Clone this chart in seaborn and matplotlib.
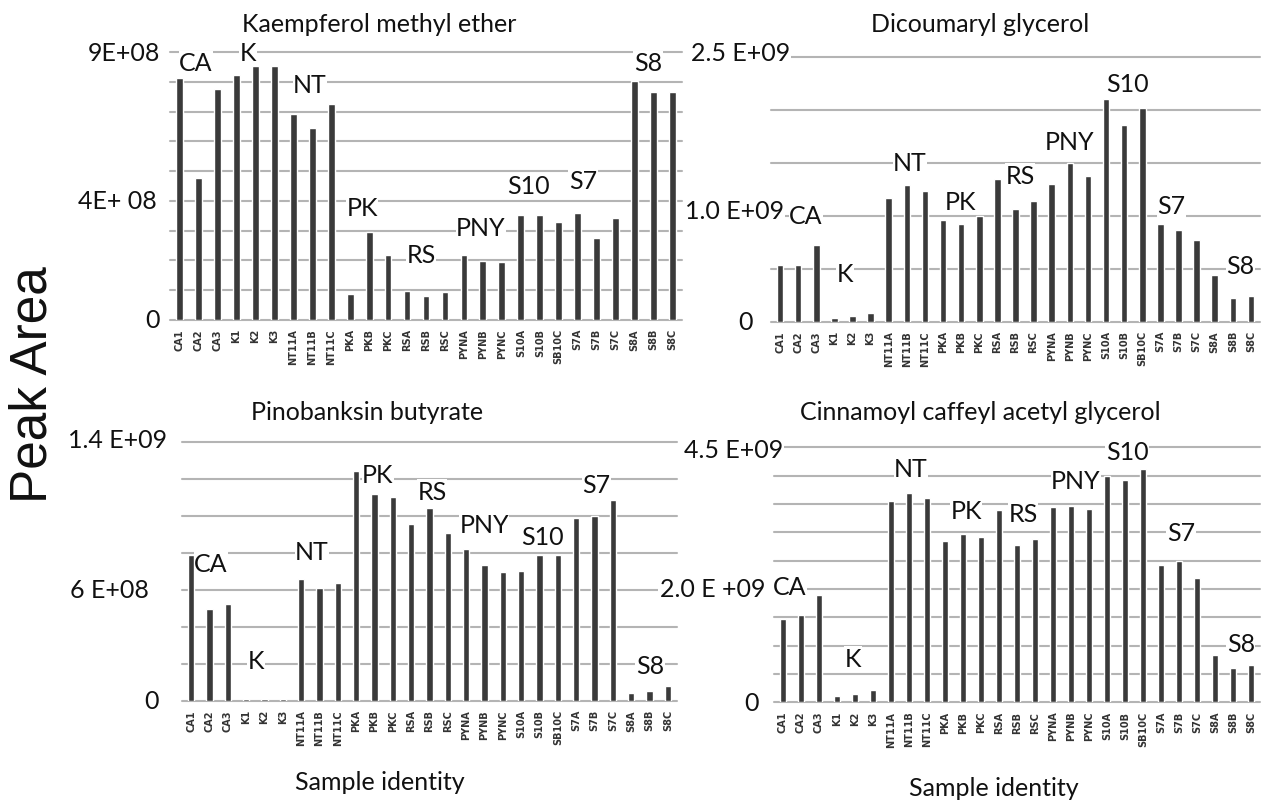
import numpy as np
import matplotlib
matplotlib.use("Agg")
import matplotlib.pyplot as plt
import seaborn as sns

# Sample identities (x categories shared by all four panels)
samples = ["CA1", "CA2", "CA3", "K1", "K2", "K3", "NT11A", "NT11B", "NT11C",
           "PKA", "PKB", "PKC", "RSA", "RSB", "RSC", "PYNA", "PYNB", "PYNC",
           "S10A", "S10B", "SB10C", "S7A", "S7B", "S7C", "S8A", "S8B", "S8C"]

# Peak areas per compound
kaempferol_methyl_ether = [8.13e8, 4.78e8, 7.75e8, 8.25e8, 8.53e8, 8.53e8, 6.93e8, 6.44e8, 7.25e8,
                           0.88e8, 2.96e8, 2.19e8, 0.96e8, 0.81e8, 0.92e8, 2.19e8, 1.96e8, 1.93e8,
                           3.51e8, 3.51e8, 3.28e8, 3.58e8, 2.74e8, 3.43e8, 8.02e8, 7.66e8, 7.66e8]
dicoumaryl_glycerol = [0.538e9, 0.532e9, 0.728e9, 0.032e9, 0.051e9, 0.082e9, 1.171e9, 1.291e9, 1.234e9,
                       0.959e9, 0.927e9, 0.997e9, 1.348e9, 1.063e9, 1.139e9, 1.304e9, 1.497e9, 1.380e9,
                       2.110e9, 1.858e9, 2.022e9, 0.927e9, 0.870e9, 0.772e9, 0.443e9, 0.228e9, 0.241e9]
pinobanksin_butyrate = [0.791e9, 0.496e9, 0.524e9, 0.008e9, 0.008e9, 0.008e9, 0.658e9, 0.613e9, 0.636e9,
                        1.242e9, 1.118e9, 1.104e9, 0.955e9, 1.042e9, 0.909e9, 0.822e9, 0.733e9, 0.695e9,
                        0.702e9, 0.791e9, 0.791e9, 0.990e9, 1.000e9, 1.090e9, 0.040e9, 0.050e9, 0.078e9]
cinnamoyl_caffeyl_acetyl_glycerol = [1.47e9, 1.54e9, 1.90e9, 0.106e9, 0.153e9, 0.224e9, 3.56e9, 3.69e9, 3.61e9,
                                     2.85e9, 2.97e9, 2.92e9, 3.40e9, 2.78e9, 2.88e9, 3.44e9, 3.46e9, 3.42e9,
                                     3.99e9, 3.92e9, 4.11e9, 2.43e9, 2.50e9, 2.19e9, 0.84e9, 0.61e9, 0.65e9]

groups = ["CA", "K", "NT", "PK", "RS", "PNY", "S10", "S7", "S8"]

titles = ["Kaempferol methyl ether", "Dicoumaryl glycerol",
          "Pinobanksin butyrate", "Cinnamoyl caffeyl acetyl glycerol"]
series = [kaempferol_methyl_ether, dicoumaryl_glycerol,
          pinobanksin_butyrate, cinnamoyl_caffeyl_acetyl_glycerol]

y_max = [9e8, 2.5e9, 1.4e9, 4.5e9]
y_step = [1e8, 5e8, 2e8, 5e8]
y_label_values = [[0, 4e8, 9e8], [0, 1e9, 2.5e9], [0, 6e8, 1.4e9], [0, 2e9, 4.5e9]]
y_label_texts = [["0", "4E+ 08", "9E+08"], ["0", "1.0 E+09", "2.5 E+09"],
                 ["0", "6 E+08", "1.4 E+09"], ["0", "2.0 E +09", "4.5 E+09"]]

# ---- layout (figure pixels) ----
W, H = 1261, 803
axes_px = [(170, 682, 53.3, 320.7), (771, 1260, 58.3, 322.7),
           (182, 677, 443.3, 701.7), (774, 1260, 448.3, 703.3)]
title_px = [(379, 25), (980, 25), (367, 412), (980, 413)]
# y label placement: (x offset from axes left edge, y offset) in pixels, white box flag
ylab_off = [[(-10, 0), (-13, 0), (-10, 0)],
            [(-18, 0), (13, 5), (19, 5)],
            [(-23, 0), (-33, 0), (-15, 3)],
            [(-15, 0), (-9, 0), (9, -2)]]
# group label anchors in (category position, value)
group_pos = [
    [(0.87, 8.64e8), (3.61, 9.01e8), (6.88, 7.93e8), (9.63, 3.79e8), (12.74, 2.18e8),
     (15.9, 3.12e8), (18.38, 4.50e8), (21.28, 4.67e8), (24.71, 8.64e8)],
    [(1.43, 1.0e9), (3.59, 0.46e9), (7.18, 1.51e9), (9.94, 1.14e9), (13.25, 1.387e9),
     (15.96, 1.70e9), (19.16, 2.25e9), (21.59, 1.094e9), (25.4, 0.527e9)],
    [(1.08, 7.46e8), (3.54, 2.2e8), (6.59, 8.11e8), (10.19, 1.228e9), (13.14, 1.136e9),
     (15.98, 9.57e8), (19.14, 8.92e8), (22.09, 1.169e9), (25.03, 1.93e8)],
    [(0.39, 2.05e9), (3.89, 0.78e9), (7.11, 4.12e9), (10.17, 3.38e9), (13.33, 3.34e9),
     (16.28, 3.91e9), (19.11, 4.42e9), (22.11, 3.0e9), (25.44, 1.03e9)],
]

sns.set_theme(style="white")
plt.rcParams["font.family"] = ["Lato", "DejaVu Sans"]

TEXT_SIZE = 18
BAR_COLOR = "#3a3a3a"
GRID_COLOR = "#b4b4b4"

fig = plt.figure(figsize=(W / 100, H / 100), dpi=100)
fig.patch.set_facecolor("white")

for i in range(4):
    l, r, t, b = axes_px[i]
    ax = fig.add_axes([l / W, 1 - b / H, (r - l) / W, (b - t) / H])
    sns.barplot(x=samples, y=series[i], order=samples, color=BAR_COLOR,
                saturation=1, width=0.36, ax=ax)
    ax.set_xlim(-0.5, len(samples) - 0.5)
    ax.set_ylim(0, y_max[i])
    ax.set_yticks(np.arange(0, y_max[i] + y_step[i] / 2, y_step[i]))
    ax.yaxis.grid(True, color=GRID_COLOR, linewidth=1.5)
    ax.xaxis.grid(False)
    ax.set_axisbelow(True)
    for gl in ax.get_ygridlines():
        gl.set_clip_on(False)
    for s in ax.spines.values():
        s.set_visible(False)
    ax.tick_params(axis="y", length=0, labelleft=False)
    ax.tick_params(axis="x", length=0, pad=6)
    ax.set_xticks(range(len(samples)))
    ax.set_xticklabels(samples, rotation=90, fontsize=7, fontweight="bold",
                       color="#333333", family="DejaVu Sans")
    ax.set_xlabel("")
    ax.set_ylabel("")
    ax.patch.set_alpha(0)

    # y axis value labels
    for v, txt, (dx, dy) in zip(y_label_values[i], y_label_texts[i], ylab_off[i]):
        ax.annotate(txt, xy=(0, v), xycoords=("axes fraction", "data"),
                    xytext=(dx, dy), textcoords="offset pixels",
                    ha="right", va="center", fontsize=TEXT_SIZE, color="#111111",
                    bbox=dict(boxstyle="square,pad=0.05", fc="white", ec="none"),
                    annotation_clip=False)

    # sample-group labels
    for g, (gx, gy) in zip(groups, group_pos[i]):
        ax.text(gx, gy, g, ha="center", va="center", fontsize=TEXT_SIZE,
                color="#111111", clip_on=False,
                bbox=dict(boxstyle="square,pad=0.02", fc="white", ec="none"))

    tx, ty = title_px[i]
    fig.text(tx / W, 1 - ty / H, titles[i], ha="center", va="center",
             fontsize=TEXT_SIZE, color="#111111")

fig.text(380 / W, 1 - 783 / H, "Sample identity", ha="center", va="center",
         fontsize=TEXT_SIZE, color="#111111")
fig.text(994 / W, 1 - 789 / H, "Sample identity", ha="center", va="center",
         fontsize=TEXT_SIZE, color="#111111")
fig.text(33 / W, 1 - 385 / H, "Peak Area", rotation=90, ha="center", va="center",
         fontsize=37, color="#111111", family=["Liberation Sans", "DejaVu Sans"])

fig.savefig("out.png", dpi=100, facecolor="white")
